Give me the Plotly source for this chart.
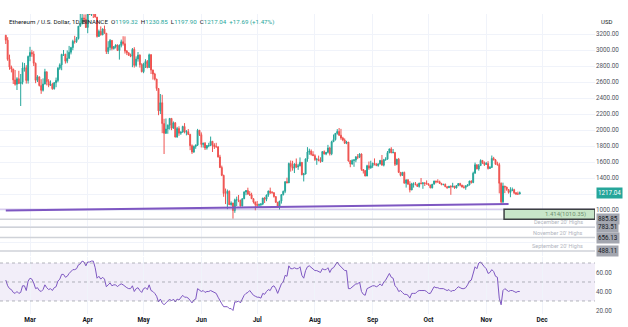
import plotly.graph_objects as go
import pandas as pd

# ---------------- data (ETH/USD daily, Binance) ----------------
DATES = pd.date_range("2022-02-16", "2022-11-19", freq="D")

OPEN = [
    3183, 3123, 2883, 2786, 2762, 2626, 2572, 2641, 2580, 2597, 2775, 2777, 2619,  # Feb 16-28
    2920, 2970, 2951, 2834, 2621, 2665, 2555, 2496, 2575, 2728, 2606, 2559, 2571, 2516, 2591, 2619,
    2772, 2814, 2945, 2948, 2860, 2896, 2972, 3030, 3108, 3105, 3143, 3298, 3330, 3400, 3385,  # Mar
    3282, 3450, 3445, 3522, 3521, 3411, 3170, 3233, 3190, 3262, 3210, 2980, 3031, 3120, 3018,
    3042, 3061, 2993, 3058, 3103, 3078, 2986, 2965, 2935, 2922, 3008, 2808, 2888, 2936, 2817,  # Apr
    2729, 2826, 2857, 2782, 2940, 2749, 2700, 2636, 2519, 2239, 2341, 2080, 1959, 2012, 2060, 2145,
    2023, 2090, 1912, 2018, 1960, 1975, 2044, 1973, 1979, 1945, 1804, 1725, 1794, 1811, 1997,  # May
    1942, 1820, 1834, 1775, 1805, 1805, 1859, 1813, 1792, 1790, 1663, 1531, 1433, 1206, 1206,
    1234, 1066, 1087, 995, 1127, 1127, 1123, 1051, 1142, 1225, 1243, 1199, 1190, 1141, 1099,  # Jun
    1068, 1060, 1067, 1075, 1150, 1134, 1187, 1238, 1217, 1217, 1168, 1097, 1038, 1112, 1192, 1233,
    1354, 1339, 1581, 1543, 1522, 1575, 1539, 1552, 1596, 1440, 1450, 1638, 1725, 1736, 1695,  # Jul
    1679, 1630, 1633, 1619, 1607, 1730, 1700, 1721, 1775, 1702, 1853, 1880, 1958, 1982, 1935, 1900,
    1875, 1835, 1849, 1612, 1575, 1620, 1625, 1665, 1660, 1700, 1506, 1490, 1425, 1553, 1524,  # Aug
    1554, 1586, 1577, 1556, 1577, 1619, 1561, 1629, 1635, 1717, 1764, 1715, 1720, 1571, 1635,
    1471, 1432, 1470, 1335, 1377, 1324, 1251, 1328, 1328, 1317, 1295, 1336, 1331, 1337, 1335,  # Sep
    1328, 1312, 1277, 1323, 1362, 1352, 1352, 1331, 1316, 1321, 1292, 1279, 1296, 1289, 1299, 1275,
    1306, 1331, 1311, 1287, 1283, 1299, 1315, 1363, 1344, 1460, 1565, 1514, 1555, 1620, 1590,  # Oct
    1570, 1580, 1519, 1531, 1645, 1627, 1572, 1567, 1334, 1102, 1300, 1287, 1257, 1220, 1243,
    1254, 1215, 1200, 1199.32,  # Nov 1-19
]
HIGH = [
    3190, 3160, 2942, 2805, 2765, 2750, 2660, 2740, 2700, 2845, 2838, 2810, 2930,
    3040, 3002, 2985, 2842, 2685, 2665, 2635, 2645, 2765, 2728, 2635, 2620, 2590, 2600, 2655, 2786,
    2833, 2953, 3000, 2951, 2995, 3051, 3040, 3128, 3177, 3163, 3300, 3483, 3482, 3445, 3445,
    3470, 3540, 3580, 3535, 3555, 3411, 3255, 3295, 3270, 3305, 3212, 3110, 3137, 3125, 3050,
    3072, 3070, 3070, 3130, 3172, 3170, 3000, 2970, 2955, 3025, 3035, 2920, 2975, 2945, 2835,
    2840, 2885, 2875, 2955, 2950, 2755, 2715, 2640, 2524, 2450, 2440, 2140, 2144, 2069, 2150, 2145,
    2107, 2098, 2039, 2046, 1982, 2053, 2086, 1999, 2012, 1952, 1820, 1806, 1820, 2014, 2000,
    1970, 1842, 1850, 1812, 1840, 1918, 1862, 1835, 1840, 1795, 1690, 1555, 1441, 1268, 1256,
    1245, 1108, 1091, 1142, 1167, 1188, 1127, 1144, 1235, 1247, 1279, 1236, 1216, 1145, 1105,
    1113, 1081, 1086, 1152, 1164, 1193, 1241, 1280, 1237, 1220, 1170, 1101, 1113, 1200, 1243, 1358,
    1404, 1593, 1619, 1615, 1584, 1644, 1578, 1657, 1598, 1464, 1645, 1786, 1767, 1757, 1735,
    1697, 1652, 1680, 1659, 1733, 1745, 1723, 1814, 1790, 1866, 1944, 1962, 2011, 2025, 2014, 1915,
    1895, 1865, 1850, 1625, 1633, 1637, 1670, 1699, 1710, 1707, 1510, 1500, 1565, 1606, 1616,
    1590, 1645, 1582, 1581, 1627, 1688, 1639, 1660, 1737, 1766, 1785, 1763, 1723, 1640, 1651,
    1475, 1477, 1480, 1380, 1385, 1360, 1340, 1345, 1350, 1330, 1340, 1400, 1350, 1345, 1370,
    1330, 1315, 1325, 1366, 1366, 1384, 1367, 1340, 1326, 1331, 1295, 1302, 1310, 1340, 1300, 1312,
    1334, 1340, 1315, 1310, 1311, 1321, 1364, 1370, 1479, 1593, 1570, 1575, 1633, 1623, 1607,
    1600, 1611, 1550, 1681, 1664, 1638, 1604, 1590, 1345, 1342, 1300, 1291, 1263, 1285, 1281,
    1265, 1225, 1230, 1230.85,
]
LOW = [
    3075, 2865, 2753, 2720, 2575, 2555, 2500, 2580, 2300, 2570, 2730, 2580, 2580,
    2860, 2915, 2800, 2585, 2600, 2545, 2452, 2481, 2570, 2558, 2535, 2550, 2503, 2505, 2535, 2597,
    2752, 2747, 2925, 2830, 2835, 2890, 2945, 2997, 3080, 3089, 3131, 3290, 3320, 3335, 3275,
    3210, 3440, 3425, 3400, 3407, 3155, 3165, 3180, 3185, 3205, 2950, 2950, 2995, 2995, 3005,
    3020, 2990, 2880, 3033, 3055, 2955, 2936, 2925, 2910, 2785, 2780, 2790, 2855, 2780, 2720,
    2710, 2775, 2771, 2778, 2700, 2630, 2620, 2490, 2185, 2200, 1960, 1700, 1950, 1953, 2005, 1998,
    2015, 1908, 1904, 1927, 1940, 1965, 1958, 1933, 1937, 1748, 1701, 1715, 1765, 1800, 1925,
    1782, 1780, 1750, 1755, 1785, 1800, 1725, 1763, 1780, 1656, 1524, 1423, 1165, 1074, 1010,
    1062, 1054, 881, 965, 1049, 1098, 1043, 1045, 1135, 1185, 1190, 1175, 1140, 1081, 997,
    1033, 1040, 1036, 1060, 1088, 1110, 1165, 1200, 1205, 1155, 1090, 1035, 1006, 1080, 1182, 1211,
    1335, 1338, 1480, 1492, 1462, 1525, 1502, 1546, 1435, 1357, 1445, 1603, 1690, 1680, 1675,
    1615, 1565, 1608, 1590, 1602, 1695, 1685, 1707, 1681, 1685, 1850, 1868, 1942, 1924, 1878, 1860,
    1825, 1823, 1606, 1535, 1566, 1540, 1597, 1636, 1649, 1490, 1456, 1422, 1423, 1502, 1519,
    1527, 1557, 1548, 1541, 1568, 1557, 1545, 1615, 1632, 1710, 1710, 1710, 1550, 1560, 1462,
    1420, 1430, 1332, 1280, 1313, 1220, 1248, 1280, 1310, 1290, 1280, 1320, 1265, 1300, 1317,
    1306, 1272, 1270, 1320, 1333, 1345, 1325, 1311, 1310, 1285, 1266, 1275, 1190, 1284, 1265, 1271,
    1297, 1296, 1282, 1268, 1253, 1295, 1306, 1330, 1335, 1455, 1508, 1492, 1555, 1577, 1550,
    1566, 1506, 1515, 1530, 1620, 1567, 1555, 1208, 1073, 1087, 1211, 1240, 1205, 1160, 1236,
    1198, 1187, 1190, 1197.90,
]
CLOSE = [
    3123, 2883, 2786, 2762, 2626, 2572, 2641, 2580, 2597, 2775, 2777, 2619, 2920,
    2970, 2951, 2834, 2621, 2665, 2555, 2496, 2575, 2728, 2606, 2559, 2571, 2516, 2591, 2619, 2772,
    2814, 2945, 2948, 2860, 2896, 2972, 3030, 3108, 3105, 3143, 3298, 3330, 3400, 3385, 3282,
    3450, 3445, 3522, 3521, 3411, 3170, 3233, 3190, 3262, 3210, 2980, 3031, 3120, 3018, 3042,
    3061, 2993, 3058, 3103, 3078, 2986, 2965, 2935, 2922, 3008, 2808, 2888, 2936, 2817, 2729,
    2826, 2857, 2782, 2940, 2749, 2700, 2636, 2519, 2239, 2341, 2080, 1959, 2012, 2060, 2145, 2023,
    2090, 1912, 2018, 1960, 1975, 2044, 1973, 1979, 1945, 1804, 1725, 1794, 1811, 1997, 1942,
    1820, 1834, 1775, 1805, 1805, 1859, 1813, 1792, 1790, 1663, 1531, 1433, 1206, 1206, 1234,
    1066, 1087, 995, 1127, 1127, 1123, 1051, 1142, 1225, 1243, 1199, 1190, 1141, 1099, 1068,
    1060, 1067, 1075, 1150, 1134, 1187, 1238, 1217, 1217, 1168, 1097, 1038, 1112, 1192, 1233, 1354,
    1339, 1581, 1543, 1522, 1575, 1539, 1552, 1596, 1440, 1450, 1638, 1725, 1736, 1695, 1679,
    1630, 1633, 1619, 1607, 1730, 1700, 1721, 1775, 1702, 1853, 1880, 1958, 1982, 1935, 1900, 1875,
    1835, 1849, 1612, 1575, 1620, 1625, 1665, 1660, 1700, 1506, 1490, 1425, 1553, 1524, 1554,
    1586, 1577, 1556, 1577, 1619, 1561, 1629, 1635, 1717, 1764, 1715, 1720, 1571, 1635, 1471,
    1432, 1470, 1335, 1377, 1324, 1251, 1328, 1328, 1317, 1295, 1336, 1331, 1337, 1335, 1328,
    1312, 1277, 1323, 1362, 1352, 1352, 1331, 1316, 1321, 1292, 1279, 1296, 1289, 1299, 1275, 1306,
    1331, 1311, 1287, 1283, 1299, 1315, 1363, 1344, 1460, 1565, 1514, 1555, 1620, 1590, 1570,
    1580, 1519, 1531, 1645, 1627, 1572, 1567, 1334, 1102, 1300, 1287, 1257, 1220, 1243, 1254,
    1215, 1200, 1199.35, 1217.04,
]
RSI = [
    52, 46, 43, 42, 39, 38, 40, 38, 39, 46, 46, 41, 51,
    54, 53, 49, 43, 44, 41, 40, 42, 47, 44, 42, 43, 41, 44, 45, 51,
    53, 58, 58, 55, 56, 59, 61, 63, 63, 64, 68, 69, 72, 71, 67,
    71, 71, 72, 72, 65, 54, 56, 53, 55, 53, 45, 47, 49, 46, 47,
    47, 45, 47, 48, 47, 45, 44, 43, 43, 46, 40, 43, 44, 41, 39,
    43, 44, 42, 47, 41, 40, 38, 35, 29, 32, 28, 26, 28, 30, 32, 30,
    32, 29, 32, 31, 33, 36, 34, 34, 33, 30, 28, 31, 32, 43, 41,
    40, 41, 39, 40, 40, 41, 40, 39, 38, 34, 30, 27, 24, 24, 24,
    22, 22, 20, 29, 29, 30, 28, 32, 36, 38, 39, 41, 38, 36, 35,
    34, 34, 33, 38, 37, 40, 42, 41, 45, 46, 43, 38, 44, 48, 50, 57,
    56, 67, 64, 64, 65, 64, 64, 66, 57, 54, 62, 66, 67, 65, 64,
    62, 62, 61, 60, 64, 63, 63, 65, 60, 64, 65, 68, 71, 68, 66, 64,
    62, 62, 43, 43, 45, 46, 48, 48, 50, 40, 37, 36, 43, 44, 45,
    46, 46, 45, 46, 48, 46, 50, 52, 56, 59, 55, 54, 46, 44, 40,
    41, 39, 37, 37, 36, 33, 38, 38, 38, 40, 41, 41, 41, 41, 40,
    38, 38, 42, 45, 44, 44, 43, 43, 43, 42, 41, 42, 40, 41, 41, 43,
    45, 44, 43, 43, 44, 47, 51, 52, 58, 66, 64, 70, 71, 68, 66,
    64, 59, 60, 63, 61, 56, 55, 33, 26, 41, 43, 41, 40, 41, 41,
    40, 39, 40, 40,
]
PREV_CLOSE = CLOSE[-2]

LEVELS = [885.85, 783.51, 656.13, 488.11]
LEVEL_NAMES = ["", "December 20' Highs", "November 20' Highs", "September 20' Highs"]
FIB_LEVEL = 1010.35
FIB_LABEL = "1.414(1010.35)"
FIB_START = "2022-11-10 14:00"
TREND_X = ["2022-02-16", "2022-11-13"]
TREND_Y = [995, 1075]
PRICE_TICKS = list(range(600, 3400, 200))
HIDDEN_TICKS = [600, 800, 1200]          # covered by the value tags in the reference
RSI_TICKS = [20, 40, 60]
RSI_GUIDES = [30, 50, 70]
X_RANGE = ["2022-02-12 21:20", "2022-12-29 10:00"]
PRICE_RANGE = [425, 3450]
RSI_RANGE = [16.3, 76.3]

assert len(OPEN) == len(HIGH) == len(LOW) == len(CLOSE) == len(RSI) == len(DATES)

# ---------------- styling ----------------
FONT = "Roboto, Inter, sans-serif"
UP, DOWN = "#26a69a", "#ef5350"
GRID = "#f0f3fa"
AXIS_TXT = "#50535e"

fig = go.Figure()
fig.add_trace(go.Candlestick(
    x=DATES, open=OPEN, high=HIGH, low=LOW, close=CLOSE,
    increasing=dict(line=dict(color=UP, width=1), fillcolor=UP),
    decreasing=dict(line=dict(color=DOWN, width=1), fillcolor=DOWN),
    whiskerwidth=0, xaxis="x", yaxis="y", hoverinfo="skip",
))
fig.add_trace(go.Scatter(
    x=DATES, y=RSI, mode="lines", line=dict(color="#7e57c2", width=1),
    xaxis="x", yaxis="y2", hoverinfo="skip",
))

shapes = []
shapes.append(dict(type="rect", xref="x domain", yref="y2", x0=0, x1=1,
                   y0=RSI_GUIDES[0], y1=RSI_GUIDES[-1],
                   fillcolor="rgba(126,87,194,0.10)", line=dict(width=0), layer="below"))
for g in RSI_GUIDES:
    shapes.append(dict(type="line", xref="x domain", yref="y2", x0=0, x1=1, y0=g, y1=g,
                       line=dict(color="rgba(120,123,134,0.55)", width=1, dash="dot")))
for lv in LEVELS:
    shapes.append(dict(type="line", xref="x domain", yref="y", x0=0, x1=1, y0=lv, y1=lv,
                       line=dict(color="#cfd2d8", width=1.5)))
shapes.append(dict(type="line", xref="x domain", yref="y", x0=0, x1=1, y0=FIB_LEVEL, y1=FIB_LEVEL,
                   line=dict(color="rgba(149,117,205,0.55)", width=1)))
shapes.append(dict(type="rect", xref="x", yref="y", x0=FIB_START, x1=X_RANGE[1],
                   y0=LEVELS[0], y1=FIB_LEVEL, fillcolor="#c8e6c9",
                   line=dict(color="#3c4043", width=1.5)))
shapes.append(dict(type="line", xref="x", yref="y", x0=TREND_X[0], x1=TREND_X[1],
                   y0=TREND_Y[0], y1=TREND_Y[1], line=dict(color="#7e57c2", width=2)))

annotations = []
G = UP
chg = CLOSE[-1] - PREV_CLOSE
hdr = (f"<span style='color:#131722'>Ethereum / U.S. Dollar, 1D, BINANCE&nbsp;&nbsp;O</span>"
       f"<span style='color:{G}'>{OPEN[-1]:.2f}</span>"
       f"<span style='color:#131722'>&nbsp;&nbsp;H</span><span style='color:{G}'>{HIGH[-1]:.2f}</span>"
       f"<span style='color:#131722'>&nbsp;&nbsp;L</span><span style='color:{G}'>{LOW[-1]:.2f}</span>"
       f"<span style='color:#131722'>&nbsp;&nbsp;C</span><span style='color:{G}'>{CLOSE[-1]:.2f}</span>"
       f"<span style='color:{G}'>&nbsp;&nbsp;{chg:+.2f} ({chg/PREV_CLOSE*100:+.2f}%)</span>")
annotations.append(dict(text=hdr, xref="paper", x=0, xanchor="left", xshift=7,
                        yref="y domain", y=1, yanchor="middle", yshift=-8,
                        showarrow=False, font=dict(size=6.2, family=FONT)))
annotations.append(dict(text="USD", xref="paper", x=1, xanchor="left", xshift=4,
                        yref="y domain", y=1, yanchor="middle", yshift=-7,
                        showarrow=False, font=dict(size=6, color="#131722", family=FONT)))
annotations.append(dict(text=f"{CLOSE[-1]:.2f}", xref="paper", x=1, xanchor="left", xshift=1,
                        yref="y", y=CLOSE[-1], yanchor="middle", showarrow=False,
                        bgcolor=UP, borderpad=1, font=dict(size=6.3, color="white", family=FONT)))
for lv, name in zip(LEVELS, LEVEL_NAMES):
    annotations.append(dict(text=f"{lv:.2f}", xref="paper", x=1, xanchor="left", xshift=1,
                            yref="y", y=lv, yanchor="middle", showarrow=False,
                            bgcolor="#a3a6af", borderpad=1,
                            font=dict(size=6.3, color="#131722", family=FONT)))
    if name:
        annotations.append(dict(text=name, xref="paper", x=1, xanchor="right", xshift=-10,
                                yref="y", y=lv, yanchor="bottom", yshift=0, showarrow=False,
                                font=dict(size=5.5, color="#b2b5be", family=FONT)))
annotations.append(dict(text=FIB_LABEL, xref="paper", x=1, xanchor="right", xshift=-7,
                        yref="y", y=(FIB_LEVEL + LEVELS[0]) / 2, yanchor="middle",
                        showarrow=False, font=dict(size=6, color="#6f8f70", family=FONT)))

price_text = ["" if t in HIDDEN_TICKS else f"{t:.2f}" for t in PRICE_TICKS]

fig.update_layout(
    width=628, height=327,
    margin=dict(l=0, r=33, t=14, b=13),
    paper_bgcolor="white", plot_bgcolor="white",
    showlegend=False,
    font=dict(family=FONT),
    shapes=shapes, annotations=annotations,
    xaxis=dict(type="date", range=X_RANGE, domain=[0, 1], anchor="y2",
               dtick="M1", tick0="2022-01-01", tickformat="%b",
               showgrid=True, gridcolor=GRID, gridwidth=1, zeroline=False, showline=False,
               ticks="", rangeslider=dict(visible=False),
               tickfont=dict(size=6.5, color="#131722", family=FONT, weight="bold")),
    yaxis=dict(domain=[0.1933, 1], range=PRICE_RANGE, side="right", anchor="x",
               tickvals=PRICE_TICKS, ticktext=price_text, showgrid=True, gridcolor=GRID,
               zeroline=False, showline=False, ticks="",
               tickfont=dict(size=6.3, color=AXIS_TXT, family=FONT)),
    yaxis2=dict(domain=[0, 0.19], range=RSI_RANGE, side="right", anchor="x",
                tickvals=RSI_TICKS, tickformat=".2f", showgrid=False,
                zeroline=False, showline=False, ticks="",
                tickfont=dict(size=6.3, color=AXIS_TXT, family=FONT)),
)

fig.write_html("out.html")
